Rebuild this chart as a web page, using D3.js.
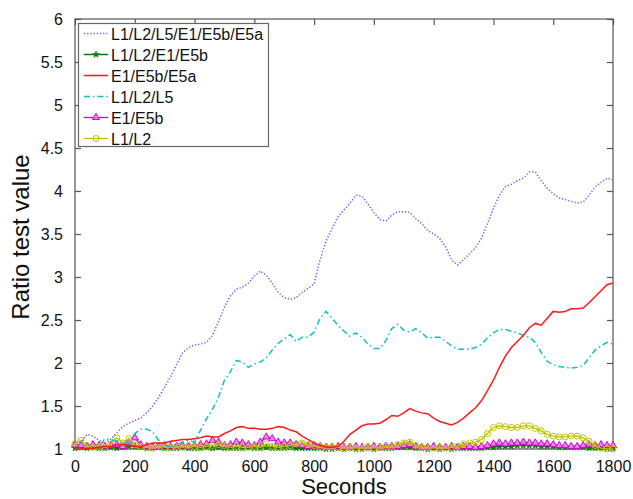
<!DOCTYPE html>
<html><head><meta charset="utf-8">
<script src="https://cdn.jsdelivr.net/npm/d3@7"></script>
<style>body{margin:0;background:#fff}svg{display:block;font-family:"Liberation Sans",Arial,sans-serif}</style>
</head><body><svg id="c" width="633" height="499"></svg>
<script>
// seconds sampled every 20 s
const seconds = [0,20,40,60,80,100,120,140,160,180,200,220,240,260,280,300,320,340,360,380,400,420,440,460,480,500,520,540,560,580,600,620,640,660,680,700,720,740,760,780,800,820,840,860,880,900,920,940,960,980,1000,1020,1040,1060,1080,1100,1120,1140,1160,1180,1200,1220,1240,1260,1280,1300,1320,1340,1360,1380,1400,1420,1440,1460,1480,1500,1520,1540,1560,1580,1600,1620,1640,1660,1680,1700,1720,1740,1760,1780,1800];

const allSix = [1.02,1.08,1.17,1.15,1.10,1.06,1.12,1.19,1.26,1.30,1.33,1.36,1.42,1.50,1.60,1.72,1.84,1.98,2.12,2.18,2.21,2.22,2.24,2.32,2.48,2.65,2.78,2.86,2.88,2.93,3.01,3.07,3.02,2.93,2.82,2.76,2.74,2.76,2.82,2.87,2.92,3.20,3.42,3.56,3.70,3.78,3.86,3.95,3.94,3.85,3.75,3.67,3.65,3.72,3.76,3.76,3.75,3.68,3.62,3.54,3.50,3.45,3.35,3.20,3.14,3.20,3.27,3.34,3.45,3.62,3.80,3.95,4.05,4.08,4.12,4.15,4.22,4.22,4.12,4.03,3.97,3.92,3.90,3.88,3.86,3.87,3.95,4.05,4.10,4.15,4.13];

const l1l2e1e5b = [1.01,1.02,1.01,1.02,1.01,1.01,1.02,1.01,1.02,1.03,1.03,1.02,1.01,1.01,1.02,1.01,1.01,1.01,1.02,1.01,1.01,1.01,1.02,1.01,1.02,1.01,1.01,1.01,1.01,1.02,1.01,1.01,1.02,1.01,1.01,1.01,1.02,1.01,1.01,1.01,1.01,1.01,1.00,1.00,1.01,1.00,1.01,1.00,1.00,1.01,1.00,1.01,1.01,1.01,1.02,1.02,1.02,1.01,1.01,1.00,1.01,1.00,1.01,1.00,1.01,1.01,1.01,1.01,1.01,1.02,1.02,1.03,1.03,1.03,1.04,1.04,1.04,1.04,1.03,1.03,1.03,1.02,1.02,1.02,1.02,1.02,1.01,1.01,1.01,1.01,1.01];

const e1e5be5a = [1.00,1.00,1.01,1.01,1.02,1.03,1.03,1.05,1.05,1.04,1.03,1.03,1.05,1.07,1.07,1.07,1.09,1.10,1.11,1.11,1.12,1.13,1.15,1.14,1.14,1.18,1.21,1.25,1.26,1.24,1.24,1.23,1.23,1.24,1.26,1.25,1.22,1.20,1.15,1.11,1.07,1.04,1.02,1.02,1.03,1.09,1.17,1.22,1.27,1.29,1.29,1.30,1.34,1.39,1.38,1.42,1.47,1.44,1.42,1.41,1.36,1.32,1.30,1.28,1.31,1.36,1.42,1.48,1.56,1.68,1.80,1.95,2.08,2.18,2.25,2.32,2.41,2.46,2.44,2.52,2.60,2.59,2.60,2.63,2.63,2.64,2.70,2.77,2.84,2.91,2.93];

const l1l2l5 = [1.00,1.00,1.01,1.02,1.03,1.12,1.11,1.09,1.06,1.08,1.18,1.23,1.23,1.20,1.10,1.04,1.03,1.05,1.08,1.10,1.08,1.22,1.35,1.46,1.60,1.80,1.90,2.03,2.01,1.95,1.99,2.01,2.06,2.15,2.23,2.28,2.33,2.25,2.30,2.30,2.36,2.52,2.60,2.52,2.44,2.37,2.31,2.35,2.30,2.22,2.17,2.17,2.26,2.40,2.45,2.38,2.36,2.40,2.35,2.29,2.30,2.30,2.25,2.20,2.16,2.16,2.16,2.18,2.22,2.29,2.35,2.39,2.39,2.37,2.35,2.32,2.30,2.24,2.12,2.02,1.98,1.96,1.95,1.94,1.95,1.97,2.06,2.15,2.20,2.24,2.22];

const e1e5b = [1.05,1.04,1.03,1.05,1.04,1.03,1.04,1.05,1.03,1.08,1.13,1.05,1.03,1.02,1.03,1.04,1.03,1.03,1.04,1.03,1.04,1.05,1.06,1.10,1.08,1.04,1.05,1.08,1.07,1.05,1.04,1.08,1.14,1.12,1.08,1.07,1.07,1.05,1.04,1.03,1.04,1.03,1.02,1.02,1.03,1.02,1.02,1.03,1.02,1.02,1.03,1.02,1.03,1.03,1.03,1.04,1.05,1.03,1.02,1.02,1.03,1.02,1.02,1.03,1.02,1.03,1.03,1.02,1.03,1.04,1.06,1.07,1.06,1.07,1.07,1.08,1.07,1.07,1.06,1.06,1.05,1.04,1.04,1.03,1.03,1.04,1.05,1.04,1.05,1.04,1.04];

const l1l2 = [1.06,1.10,1.04,1.02,1.03,1.02,1.06,1.13,1.07,1.12,1.05,1.03,1.02,1.01,1.04,1.02,1.02,1.03,1.02,1.04,1.03,1.02,1.03,1.04,1.05,1.04,1.02,1.03,1.02,1.02,1.03,1.02,1.06,1.03,1.02,1.03,1.04,1.06,1.07,1.05,1.04,1.03,1.02,1.02,1.02,1.01,1.02,1.01,1.01,1.02,1.01,1.02,1.03,1.03,1.05,1.07,1.08,1.04,1.02,1.02,1.01,1.02,1.01,1.02,1.03,1.06,1.07,1.08,1.11,1.18,1.25,1.27,1.26,1.25,1.25,1.27,1.27,1.24,1.21,1.17,1.15,1.14,1.14,1.15,1.15,1.13,1.09,1.04,1.01,1.00,1.00];

const seriesNames = ["L1/L2/L5/E1/E5b/E5a","L1/L2/E1/E5b","E1/E5b/E5a","L1/L2/L5","E1/E5b","L1/L2"];
const xTicks = [0,200,400,600,800,1000,1200,1400,1600,1800];
const yTicks = [1,1.5,2,2.5,3,3.5,4,4.5,5,5.5,6];

const styles = [
  {color:"#5a5aff", dash:"1.2,2", width:1.5, marker:null},
  {color:"#007a00", dash:null, width:1.5, marker:"star"},
  {color:"#ff1a1a", dash:null, width:1.5, marker:null},
  {color:"#10c0c0", dash:"6,3,1.5,3", width:1.5, marker:null},
  {color:"#d000d0", dash:null, width:1.3, marker:"tri"},
  {color:"#c0c000", dash:null, width:1.3, marker:"circle"}
];
const data = [allSix,l1l2e1e5b,e1e5be5a,l1l2l5,e1e5b,l1l2];

const svg = d3.select("#c");
const m = {l:75, r:613, t:19, b:449};
const x = d3.scaleLinear().domain([0,1800]).range([m.l,m.r]);
const y = d3.scaleLinear().domain([1,6]).range([m.b,m.t]);

const axisColor = "#555";
// frame
svg.append("rect").attr("x",m.l).attr("y",m.t).attr("width",m.r-m.l).attr("height",m.b-m.t)
  .attr("fill","none").attr("stroke",axisColor).attr("stroke-width",1.2);

function styleAxis(g){
  g.select(".domain").remove();
  g.selectAll(".tick line").attr("stroke",axisColor).attr("stroke-width",1.2);
  g.selectAll(".tick text").attr("fill","#111").style("font-size","16px").style("font-family","'Liberation Sans',Arial,sans-serif");
}
svg.append("g").attr("transform",`translate(0,${m.b})`)
  .call(d3.axisBottom(x).tickValues(xTicks).tickFormat(d3.format("d")).tickSizeInner(-6).tickPadding(12))
  .call(styleAxis);
svg.append("g").attr("transform",`translate(0,${m.t})`)
  .call(d3.axisTop(x).tickValues(xTicks).tickSizeInner(-6).tickFormat(""))
  .call(styleAxis);
svg.append("g").attr("transform",`translate(${m.l},0)`)
  .call(d3.axisLeft(y).tickValues(yTicks).tickFormat(d3.format("")).tickSizeInner(-6).tickPadding(12))
  .call(styleAxis);
svg.append("g").attr("transform",`translate(${m.r},0)`)
  .call(d3.axisRight(y).tickValues(yTicks).tickSizeInner(-6).tickFormat(""))
  .call(styleAxis);

svg.append("defs").append("clipPath").attr("id","pc").append("rect")
  .attr("x",m.l-6).attr("y",m.t).attr("width",m.r-m.l+12).attr("height",m.b-m.t+6);

const plot = svg.append("g").attr("clip-path","url(#pc)");
const line = d3.line().x((d,i)=>x(seconds[i])).y(d=>y(d));

const star = d3.symbol().type(d3.symbolStar).size(14);
const tri = d3.symbol().type(d3.symbolTriangle).size(22);

function drawMarker(g, kind, color, cx, cy){
  if(kind==="circle"){
    g.append("circle").attr("cx",cx).attr("cy",cy).attr("r",3).attr("fill","none").attr("stroke",color).attr("stroke-width",1);
  } else if(kind==="tri"){
    g.append("path").attr("d",tri()).attr("transform",`translate(${cx},${cy})`).attr("fill","#f080f0").attr("stroke",color).attr("stroke-width",1);
  } else if(kind==="star"){
    g.append("path").attr("d",star()).attr("transform",`translate(${cx},${cy})`).attr("fill",color).attr("stroke",color).attr("stroke-width",0.6);
  }
}

// draw order: low series first, then main lines on top
const order = [1,4,5,3,2,0];
order.forEach(k=>{
  const s = styles[k];
  const p = plot.append("path").datum(data[k]).attr("d",line)
    .attr("fill","none").attr("stroke",s.color).attr("stroke-width",s.width);
  if(s.dash) p.attr("stroke-dasharray",s.dash);
  if(s.marker){
    const g = plot.append("g");
    data[k].forEach((v,i)=>drawMarker(g,s.marker,s.color,x(seconds[i]),y(v)));
  }
});

// axis titles
svg.append("text").attr("x",(m.l+m.r)/2).attr("y",494).attr("text-anchor","middle")
  .style("font-size","22px").attr("fill","#111").text("Seconds");
svg.append("text").attr("transform",`translate(29,237) rotate(-90)`).attr("text-anchor","middle")
  .style("font-size","24px").attr("fill","#111").text("Ratio test value");

// legend
const lg = svg.append("g");
lg.append("rect").attr("x",78.5).attr("y",23.5).attr("width",190).attr("height",123)
  .attr("fill","#fff").attr("stroke","#666").attr("stroke-width",1.2);
seriesNames.forEach((name,i)=>{
  const s = styles[i];
  const yy = 33.5 + i*21;
  const ln = lg.append("line").attr("x1",84).attr("x2",108).attr("y1",yy).attr("y2",yy)
    .attr("stroke",s.color).attr("stroke-width",s.width);
  if(s.dash) ln.attr("stroke-dasharray",s.dash);
  if(s.marker) drawMarker(lg,s.marker,s.color,96,yy);
  lg.append("text").attr("x",111).attr("y",yy+6).style("font-size","16px").attr("fill","#111").text(name);
});
</script></body></html>
